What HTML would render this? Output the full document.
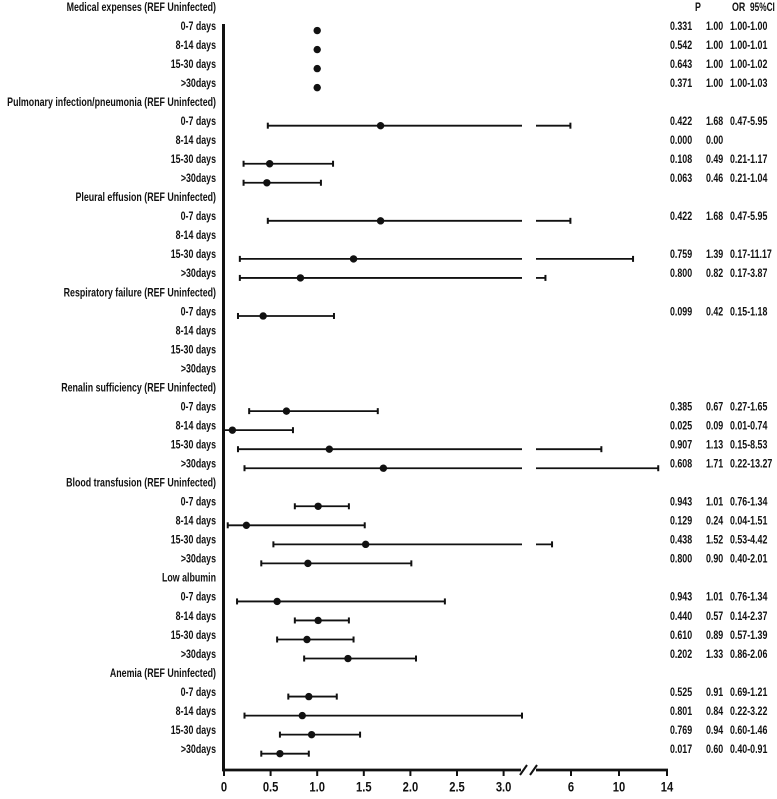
<!DOCTYPE html>
<html><head><meta charset="utf-8"><style>
html,body{margin:0;padding:0;background:#fff;}
svg{display:block;}
text{font-family:"Liberation Sans",Arial,sans-serif;font-weight:bold;font-size:11.5px;fill:#111;}
</style></head><body>
<svg id="s" width="777" height="799" xmlns="http://www.w3.org/2000/svg"></svg>
<script>
const s=document.getElementById('s');
let h='';
function X(v){ if(v<=3.2) return 224+93.2*v; return 571+12*(v-6); }
const rows=[
['Medical expenses (REF Uninfected)'],
['0-7 days',1.0,null,null,'0.331','1.00','1.00-1.00'],
['8-14 days',1.0,null,null,'0.542','1.00','1.00-1.01'],
['15-30 days',1.0,null,null,'0.643','1.00','1.00-1.02'],
['>30days',1.0,null,null,'0.371','1.00','1.00-1.03'],
['Pulmonary infection/pneumonia (REF Uninfected)'],
['0-7 days',1.68,0.47,5.95,'0.422','1.68','0.47-5.95'],
['8-14 days',null,null,null,'0.000','0.00',''],
['15-30 days',0.49,0.21,1.17,'0.108','0.49','0.21-1.17'],
['>30days',0.46,0.21,1.04,'0.063','0.46','0.21-1.04'],
['Pleural effusion (REF Uninfected)'],
['0-7 days',1.68,0.47,5.95,'0.422','1.68','0.47-5.95'],
['8-14 days'],
['15-30 days',1.39,0.17,11.17,'0.759','1.39','0.17-11.17'],
['>30days',0.82,0.17,3.87,'0.800','0.82','0.17-3.87'],
['Respiratory failure (REF Uninfected)'],
['0-7 days',0.42,0.15,1.18,'0.099','0.42','0.15-1.18'],
['8-14 days'],['15-30 days'],['>30days'],
['Renalin sufficiency (REF Uninfected)'],
['0-7 days',0.67,0.27,1.65,'0.385','0.67','0.27-1.65'],
['8-14 days',0.09,0.0,0.74,'0.025','0.09','0.01-0.74'],
['15-30 days',1.13,0.15,8.53,'0.907','1.13','0.15-8.53'],
['>30days',1.71,0.22,13.27,'0.608','1.71','0.22-13.27'],
['Blood transfusion  (REF Uninfected)'],
['0-7 days',1.01,0.76,1.34,'0.943','1.01','0.76-1.34'],
['8-14 days',0.24,0.04,1.51,'0.129','0.24','0.04-1.51'],
['15-30 days',1.52,0.53,4.42,'0.438','1.52','0.53-4.42'],
['>30days',0.90,0.40,2.01,'0.800','0.90','0.40-2.01'],
['Low albumin'],
['0-7 days',0.57,0.14,2.37,'0.943','1.01','0.76-1.34'],
['8-14 days',1.01,0.76,1.34,'0.440','0.57','0.14-2.37'],
['15-30 days',0.89,0.57,1.39,'0.610','0.89','0.57-1.39'],
['>30days',1.33,0.86,2.06,'0.202','1.33','0.86-2.06'],
['Anemia  (REF Uninfected)'],
['0-7 days',0.91,0.69,1.21,'0.525','0.91','0.69-1.21'],
['8-14 days',0.84,0.22,3.22,'0.801','0.84','0.22-3.22'],
['15-30 days',0.94,0.60,1.46,'0.769','0.94','0.60-1.46'],
['>30days',0.60,0.40,0.91,'0.017','0.60','0.40-0.91']];
function T(x,y,t,anchor,sx){sx=sx||0.77;return `<text transform="translate(${x},${y}) scale(${sx},1)" text-anchor="${anchor}" dominant-baseline="central">${t.replace(/>/g,'&gt;')}</text>`;}
h+=T(695,8,'P','start');h+=T(732,8,'OR','start');h+=T(750,8,'95%CI','start',0.72);
rows.forEach((r,i)=>{
 const y=8+19.03*i;
 h+=T(216,y,r[0],'end');
 if(r.length>4){h+=T(670,y,r[4],'start');h+=T(706,y,r[5],'start');h+=T(730,y,r[6],'start');}
 const dy=y+3.5;
 if(r[2]!=null){
  const lo=X(r[2]),hi=r[3];
  if(hi>3.2){
   h+=`<line x1="${lo}" y1="${dy}" x2="522" y2="${dy}" stroke="#111" stroke-width="1.8"/>`;
   if(hi>3.8){h+=`<line x1="536" y1="${dy}" x2="${X(hi)}" y2="${dy}" stroke="#111" stroke-width="1.8"/>`;h+=`<line x1="${X(hi)}" y1="${dy-3}" x2="${X(hi)}" y2="${dy+3}" stroke="#111" stroke-width="2"/>`;}
   else h+=`<line x1="522" y1="${dy-3}" x2="522" y2="${dy+3}" stroke="#111" stroke-width="2"/>`;
  } else {
   h+=`<line x1="${lo}" y1="${dy}" x2="${X(hi)}" y2="${dy}" stroke="#111" stroke-width="1.8"/>`;
   h+=`<line x1="${X(hi)}" y1="${dy-3}" x2="${X(hi)}" y2="${dy+3}" stroke="#111" stroke-width="2"/>`;
  }
  if(r[2]>0.0) h+=`<line x1="${lo}" y1="${dy-3}" x2="${lo}" y2="${dy+3}" stroke="#111" stroke-width="2"/>`;
 }
 if(r[1]!=null) h+=`<circle cx="${X(r[1])}" cy="${dy}" r="3.7" fill="#111"/>`;
});
h+=`<line x1="223.5" y1="24" x2="223.5" y2="771" stroke="#111" stroke-width="3"/>`;
h+=`<line x1="222" y1="770" x2="521" y2="770" stroke="#111" stroke-width="2.8"/>`;
h+=`<line x1="536" y1="770" x2="668" y2="770" stroke="#111" stroke-width="2.8"/>`;
h+=`<line x1="520" y1="775" x2="527" y2="765" stroke="#111" stroke-width="2"/>`;
h+=`<line x1="530" y1="775" x2="537" y2="765" stroke="#111" stroke-width="2"/>`;
const ticks=[[0,'0'],[0.5,'0.5'],[1,'1.0'],[1.5,'1.5'],[2,'2.0'],[2.5,'2.5'],[3,'3.0'],[6,'6'],[10,'10'],[14,'14']];
ticks.forEach(t=>{const x=X(t[0]);h+=`<line x1="${x}" y1="770" x2="${x}" y2="776" stroke="#111" stroke-width="2"/>`;
 h+=`<text transform="translate(${x},787) scale(0.8,1)" text-anchor="middle" dominant-baseline="central" style="font-size:14px">${t[1]}</text>`;});
s.innerHTML=h;
</script>
</body></html>
